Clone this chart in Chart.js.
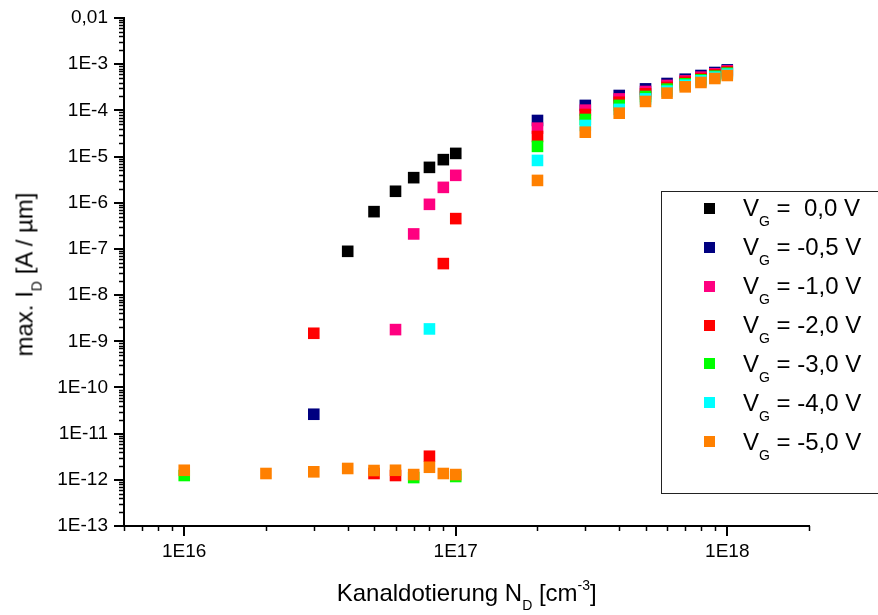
<!DOCTYPE html>
<html>
<head>
<meta charset="utf-8">
<script src="https://cdn.jsdelivr.net/npm/chart.js@4/dist/chart.umd.min.js"></script>
<style>
html,body{margin:0;padding:0;background:#fff;overflow:hidden;}
#wrap{position:relative;width:878px;height:615px;overflow:hidden;font-family:'Liberation Sans',Arial,Helvetica,sans-serif;color:#000;}
#c{position:absolute;left:0;top:0;}
.t{position:absolute;white-space:pre;font-size:24px;line-height:24px;}
.sb{font-size:14px;position:relative;top:9px;}
.sp{font-size:14px;position:relative;top:-11px;}
#legbox{position:absolute;left:661px;top:191px;width:260px;height:303px;border:1px solid #222;box-sizing:border-box;}
.mk{position:absolute;width:11px;height:11px;}
</style>
</head>
<body>
<div id="wrap">
  <canvas id="c" width="878" height="615"></canvas>
  <div id="legbox"></div>
  <div id="xtitle" class="t">Kanaldotierung N<span class="sb">D</span> [cm<span class="sp">-3</span>]</div>
  <div id="ytitle" class="t">max. I<span class="sb">D</span> [A / µm]</div>
</div>
<script>
// ---- data ----
const xCategories = [1e16,2e16,3e16,4e16,5e16,6e16,7e16,8e16,9e16,1e17,2e17,3e17,4e17,5e17,6e17,7e17,8e17,9e17,1e18];

const vg00 = [null,null,null,8.87e-8,6.41e-7,1.77e-6,3.49e-6,5.83e-6,8.57e-6,1.17e-5,null,null,null,null,null,null,null,null,null];
const vg05 = [null,null,2.63e-11,null,null,null,null,null,null,null,6.04e-5,1.28e-4,2.10e-4,2.92e-4,3.82e-4,4.73e-4,5.69e-4,6.61e-4,7.53e-4];
const vg10 = [null,null,null,null,null,1.79e-9,2.11e-7,9.23e-7,2.15e-6,3.92e-6,4.12e-5,1.01e-4,1.77e-4,2.56e-4,3.46e-4,4.35e-4,5.24e-4,6.17e-4,7.16e-4];
const vg20 = [null,null,1.49e-9,null,1.37e-12,1.24e-12,null,3.24e-12,4.81e-8,4.53e-7,2.72e-5,8.15e-5,1.50e-4,2.28e-4,3.13e-4,4.08e-4,4.90e-4,5.87e-4,6.81e-4];
const vg30 = [1.24e-12,null,null,null,null,null,1.12e-12,null,null,1.18e-12,1.66e-5,6.35e-5,1.28e-4,2.00e-4,2.88e-4,3.75e-4,4.57e-4,5.50e-4,6.38e-4];
const vg40 = [null,null,null,null,null,null,null,1.85e-9,null,null,8.24e-6,4.71e-5,1.05e-4,1.77e-4,2.61e-4,3.51e-4,4.35e-4,5.24e-4,6.08e-4];
const vg50 = [1.61e-12,1.37e-12,1.49e-12,1.76e-12,1.59e-12,1.61e-12,1.30e-12,1.87e-12,1.37e-12,1.30e-12,3.04e-6,3.37e-5,8.69e-5,1.56e-4,2.36e-4,3.23e-4,4.02e-4,4.90e-4,5.69e-4];

const seriesValues = [vg00, vg05, vg10, vg20, vg30, vg40, vg50];
const seriesLabels = [' =  0,0 V',' = -0,5 V',' = -1,0 V',' = -2,0 V',' = -3,0 V',' = -4,0 V',' = -5,0 V'];
const seriesColors = ['#000000','#000080','#FF0080','#FF0000','#00FF00','#00FFFF','#FF8000'];

const xTickValues = [1e16,1e17,1e18];
const xTickLabels = ['1E16','1E17','1E18'];
const yTickValues = [1e-13,1e-12,1e-11,1e-10,1e-9,1e-8,1e-7,1e-6,1e-5,1e-4,1e-3,1e-2];
const yTickLabels = ['1E-13','1E-12','1E-11','1E-10','1E-9','1E-8','1E-7','1E-6','1E-5','1E-4','1E-3','0,01'];

// ---- chart ----
const FONT = "'Liberation Sans', Arial, Helvetica, sans-serif";

const datasets = seriesValues.map((arr, i) => ({
  label: 'VG' + seriesLabels[i],
  data: xCategories.map((x, j) => ({x: x, y: arr[j]})).filter(p => p.y !== null),
  backgroundColor: seriesColors[i],
  borderColor: seriesColors[i],
  borderWidth: 0,
  pointStyle: 'rect',
  pointRadius: 8.2,
  pointHoverRadius: 8.2,
  showLine: false,
  order: seriesValues.length - 1 - i
}));

const minorTicks = {
  id: 'minorTicks',
  afterDraw(chart) {
    const ctx = chart.ctx, xs = chart.scales.x, ys = chart.scales.y;
    ctx.save();
    ctx.strokeStyle = '#000';
    ctx.lineWidth = 1.5;
    for (let e = 15; e <= 18; e++) {
      for (let k = 2; k <= 9; k++) {
        const v = k * Math.pow(10, e);
        if (v < xs.min * 0.9999 || v > xs.max * 1.0001) continue;
        const px = Math.round(xs.getPixelForValue(v)) + 0.5;
        ctx.beginPath(); ctx.moveTo(px, xs.top); ctx.lineTo(px, xs.top + 5); ctx.stroke();
      }
    }
    for (let e = -13; e <= -3; e++) {
      for (let k = 2; k <= 9; k++) {
        const v = k * Math.pow(10, e);
        if (v < ys.min || v > ys.max) continue;
        const py = Math.round(ys.getPixelForValue(v)) + 0.5;
        ctx.beginPath(); ctx.moveTo(ys.right, py); ctx.lineTo(ys.right - 5, py); ctx.stroke();
      }
    }
    ctx.restore();
  }
};

new Chart(document.getElementById('c'), {
  type: 'scatter',
  data: { datasets: datasets },
  options: {
    responsive: false,
    animation: false,
    devicePixelRatio: 1,
    layout: { padding: { left: 0, right: 69, top: 18, bottom: 0 } },
    plugins: { legend: { display: false }, tooltip: { enabled: false } },
    scales: {
      x: {
        type: 'logarithmic',
        position: 'bottom',
        min: 6e15,
        max: 2e18,
        afterBuildTicks: (s) => { s.ticks = xTickValues.map(v => ({value: v})); },
        afterFit: (s) => { s.height = 89; },
        ticks: {
          autoSkip: false, maxRotation: 0, padding: 4, color: '#000',
          font: { family: FONT, size: 19 },
          callback: (v, i) => xTickLabels[i]
        },
        grid: { display: true, drawOnChartArea: false, drawTicks: true, tickLength: 10, color: '#000', lineWidth: 2 },
        border: { display: true, color: '#000', width: 2 }
      },
      y: {
        type: 'logarithmic',
        position: 'left',
        min: 1e-13,
        max: 1e-2,
        afterBuildTicks: (s) => { s.ticks = yTickValues.map(v => ({value: v})); },
        afterFit: (s) => { s.width = 124; },
        ticks: {
          autoSkip: false, padding: 6, color: '#000',
          font: { family: FONT, size: 19 },
          callback: (v, i) => yTickLabels[i]
        },
        grid: { display: true, drawOnChartArea: false, drawTicks: true, tickLength: 10, color: '#000', lineWidth: 2 },
        border: { display: true, color: '#000', width: 2 }
      }
    }
  },
  plugins: [minorTicks]
});

// ---- legend (HTML text with subscripts) ----
const wrap = document.getElementById('wrap');
seriesLabels.forEach((lab, i) => {
  const cy = 208.3 + 38.9 * i;
  const mk = document.createElement('div');
  mk.className = 'mk';
  mk.style.left = (709.7 - 5.5) + 'px';
  mk.style.top = (cy - 5.5) + 'px';
  mk.style.background = seriesColors[i];
  wrap.appendChild(mk);
  const t = document.createElement('div');
  t.className = 't';
  t.style.left = '743px';
  t.style.top = (cy + 8.4 - 20.3) + 'px';
  t.innerHTML = 'V<span class="sb" style="font-size:14px;top:10px">G</span>' + lab;
  wrap.appendChild(t);
});

// axis titles placement
const xt = document.getElementById('xtitle');
xt.style.left = (466.7 - xt.offsetWidth / 2) + 'px';
xt.style.top = (601.7 - 20.3) + 'px';
const yt = document.getElementById('ytitle');
yt.style.left = (26 - yt.offsetWidth / 2) + 'px';
yt.style.top = (273 - 12) + 'px';
yt.style.transform = 'rotate(-90deg)';
yt.style.transformOrigin = '50% 50%';
</script>
</body>
</html>
